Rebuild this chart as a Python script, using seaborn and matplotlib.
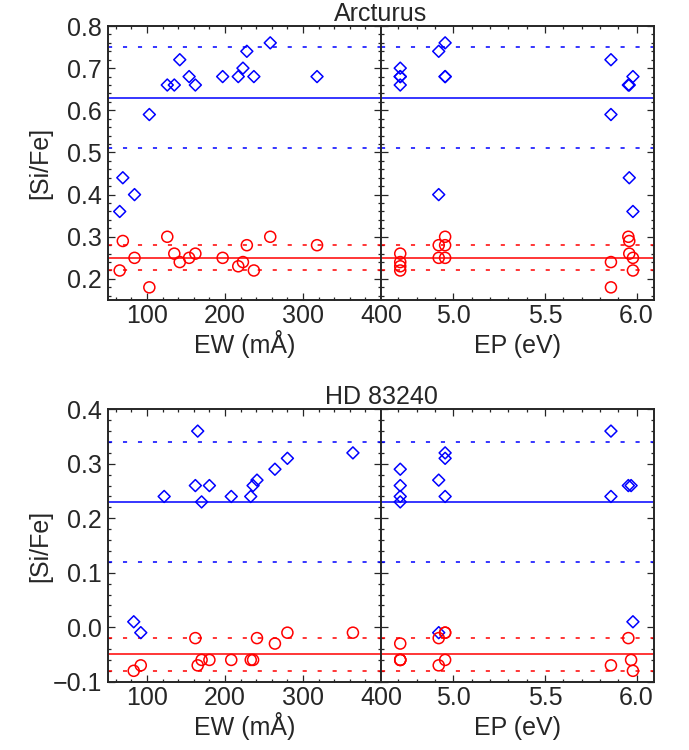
import numpy as np
import pandas as pd
import matplotlib
matplotlib.use("Agg")
import matplotlib.pyplot as plt
import seaborn as sns
from matplotlib.ticker import MultipleLocator

# ---------------- data ----------------
# Arcturus: one entry per line
arc_ew = [65, 69, 84, 103, 126, 135, 142, 154, 162, 197, 217, 223, 228, 237, 258, 318]
arc_ep = [5.98, 5.96, 4.92, 5.86, 5.955, 5.96, 5.86, 5.98, 4.71, 4.955, 4.71, 4.71, 4.92, 4.71, 4.955, 4.955]
arc_diamond = [0.36, 0.44, 0.40, 0.59, 0.66, 0.66, 0.72, 0.68, 0.66, 0.68, 0.68, 0.70, 0.74, 0.68, 0.76, 0.68]
arc_circle = [0.22, 0.29, 0.25, 0.18, 0.30, 0.26, 0.24, 0.25, 0.26, 0.25, 0.23, 0.24, 0.28, 0.22, 0.30, 0.28]
arc_diamond_mean, arc_diamond_sig = 0.63, 0.12
arc_circle_mean, arc_circle_sig = 0.25, 0.03

# HD 83240
hd_ew = [83, 92, 122, 162, 165, 170, 180, 208, 233, 236, 241, 264, 280, 364]
hd_ep = [5.98, 4.92, 5.86, 5.955, 5.86, 4.71, 5.97, 4.955, 4.71, 4.71, 4.92, 4.71, 4.955, 4.955]
hd_diamond = [0.01, -0.01, 0.24, 0.26, 0.36, 0.23, 0.26, 0.24, 0.24, 0.26, 0.27, 0.29, 0.31, 0.32]
hd_circle = [-0.08, -0.07, np.nan, -0.02, -0.07, -0.06, -0.06, -0.06, -0.06, -0.06, -0.02, -0.03, -0.01, -0.01]
hd_diamond_mean, hd_diamond_sig = 0.23, 0.11
hd_circle_mean, hd_circle_sig = -0.05, 0.03

titles = ["Arcturus", "HD 83240"]
ew_ticks = [100, 200, 300, 400]
ew_ticklabels = ["100", "200", "300", "400"]
ep_ticks = [5.0, 5.5, 6.0]
ep_ticklabels = ["5.0", "5.5", "6.0"]
arc_yticks = [0.2, 0.3, 0.4, 0.5, 0.6, 0.7, 0.8]
arc_yticklabels = ["0.2", "0.3", "0.4", "0.5", "0.6", "0.7", "0.8"]
hd_yticks = [-0.1, 0.0, 0.1, 0.2, 0.3, 0.4]
hd_yticklabels = ["\u22120.1", "0.0", "0.1", "0.2", "0.3", "0.4"]

# ---------------- style ----------------
sns.set_style("ticks")
plt.rcParams['font.family'] = ['Liberation Sans', 'DejaVu Sans']
plt.rcParams['axes.linewidth'] = 1.4

BLUE = "#0000ff"
RED = "#ff0000"
FS = 18
DOT = (0, (2.7, 7.1))

W, H = 689, 750
fig = plt.figure(figsize=(W / 100, H / 100), dpi=100)


def add_ax(x0, y0, x1, y1):
    return fig.add_axes([x0 / W, 1 - y1 / H, (x1 - x0) / W, (y1 - y0) / H])


def panel(ax, x, d, c, dm, ds, cm, cs):
    df = pd.DataFrame({"x": x, "d": d, "c": c})
    sns.scatterplot(data=df, x="x", y="d", ax=ax, marker="D", s=37,
                    color=BLUE, facecolor="none", edgecolor=BLUE,
                    linewidth=1.1, legend=False, zorder=3)
    sns.scatterplot(data=df.dropna(subset=["c"]), x="x", y="c", ax=ax,
                    marker="o", s=63, color=RED, facecolor="none",
                    edgecolor=RED, linewidth=1.1, legend=False, zorder=3)
    ax.axhline(dm, color=BLUE, lw=1.1)
    ax.axhline(dm + ds, color=BLUE, lw=1.1, ls=DOT)
    ax.axhline(dm - ds, color=BLUE, lw=1.1, ls=DOT)
    ax.axhline(cm, color=RED, lw=1.1)
    ax.axhline(cm + cs, color=RED, lw=1.1, ls=DOT)
    ax.axhline(cm - cs, color=RED, lw=1.1, ls=DOT)
    ax.set_xlabel("")
    ax.set_ylabel("")
    ax.tick_params(which="both", direction="in", top=True, right=True,
                   labelsize=FS, width=0.9)
    ax.tick_params(which="major", length=5)
    ax.tick_params(which="minor", length=2.5)
    ax.tick_params(axis="x", pad=3)
    ax.tick_params(axis="y", pad=4.5)
    ax.yaxis.set_minor_locator(MultipleLocator(0.02))


rows = [
    (26, 300, arc_ew, arc_ep, arc_diamond, arc_circle,
     arc_diamond_mean, arc_diamond_sig, arc_circle_mean, arc_circle_sig,
     (0.15, 0.80), arc_yticks, arc_yticklabels),
    (409.3, 681.7, hd_ew, hd_ep, hd_diamond, hd_circle,
     hd_diamond_mean, hd_diamond_sig, hd_circle_mean, hd_circle_sig,
     (-0.10, 0.40), hd_yticks, hd_yticklabels),
]

for i, (yt, yb, ew, ep, dv, cv, dm, ds, cm, cs, ylim, yt_, ytl) in enumerate(rows):
    axl = add_ax(108, yt, 381, yb)
    axr = add_ax(381, yt, 654, yb)

    panel(axl, ew, dv, cv, dm, ds, cm, cs)
    axl.set_xlim(50, 400)
    axl.set_xticks(ew_ticks, labels=ew_ticklabels)
    axl.xaxis.set_minor_locator(MultipleLocator(20))
    axl.set_ylim(*ylim)
    axl.set_yticks(yt_, labels=ytl)
    axl.set_ylim(*ylim)

    panel(axr, ep, dv, cv, dm, ds, cm, cs)
    axr.set_xlim(4.605, 6.095)
    axr.set_xticks(ep_ticks, labels=ep_ticklabels)
    axr.xaxis.set_minor_locator(MultipleLocator(0.1))
    axr.set_ylim(*ylim)
    axr.set_yticks(yt_)
    axr.set_ylim(*ylim)
    axr.tick_params(labelleft=False)

    # titles and axis labels
    fig.text(381 / W, 1 - (yt - 5) / H, titles[i], ha="center", va="baseline",
             fontsize=FS)
    fig.text(40 / W, 1 - ((yt + yb) / 2) / H, "[Si/Fe]", rotation=90,
             ha="center", va="center", fontsize=FS)
    fig.text(244.5 / W, 1 - (yb + 53) / H, "EW (mÅ)", ha="center",
             va="baseline", fontsize=FS)
    fig.text(517.5 / W, 1 - (yb + 53) / H, "EP (eV)", ha="center",
             va="baseline", fontsize=FS)

fig.savefig("out.png", dpi=100)
